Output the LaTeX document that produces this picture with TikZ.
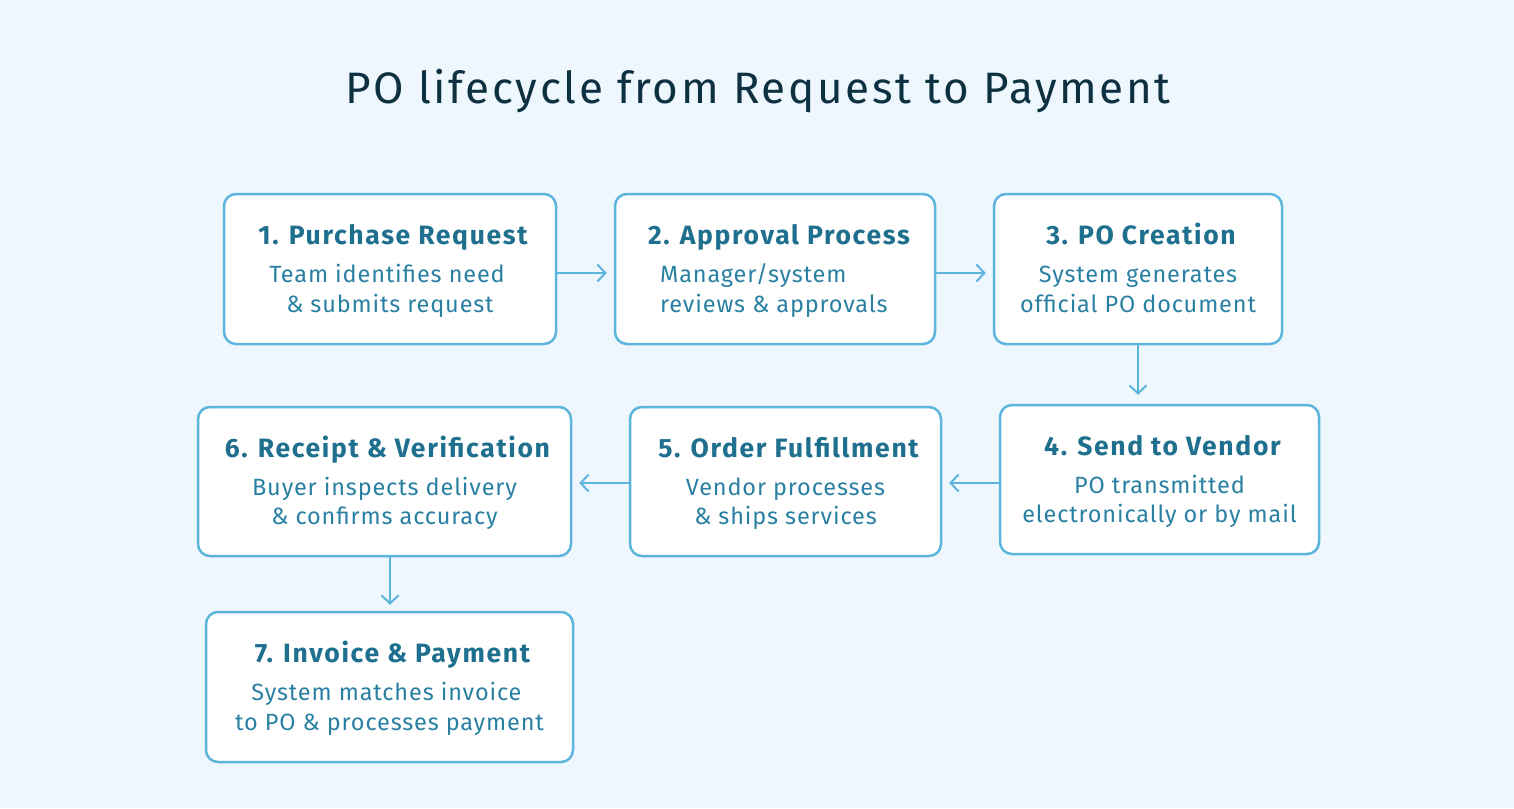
\documentclass[tikz,border=0pt]{standalone}
\usepackage{fontspec}
\setmainfont{Fira Sans}
\newfontfamily\ttlfont[LetterSpace=6]{Fira Sans}
\newfontfamily\hdfont[LetterSpace=6.3]{Fira Sans}
\newfontfamily\bdfont[LetterSpace=3.6]{Fira Sans}
\usetikzlibrary{calc,arrows.meta}
\definecolor{bgc}{HTML}{EEF7FD}
\definecolor{bdc}{HTML}{5DB5DD}
\definecolor{hdc}{HTML}{1F6F8E}
\definecolor{bdyc}{HTML}{2A80A3}
\definecolor{ttc}{HTML}{0E3142}
\tikzset{
  box/.style={draw=bdc, line width=2.5pt, fill=white, rounded corners=12pt, inner sep=0pt},
  hd/.style={font=\hdfont\fontsize{26.5}{30}\selectfont\bfseries, text=hdc, anchor=base, inner sep=0pt},
  bd/.style={font=\bdfont\fontsize{23.5}{30}\selectfont, text=bdyc, anchor=base, inner sep=0pt},
  arr/.style={draw=bdc, line width=2pt, -{Straight Barb[length=8pt,width=17pt]}},
  ttl/.style={font=\ttlfont\fontsize{44}{50}\selectfont, text=ttc, anchor=base, inner sep=0pt}
}
\begin{document}
\begin{tikzpicture}[x=1pt,y=-1pt]
\fill[bgc] (0,0) rectangle (1514,808);
\useasboundingbox (0,0) rectangle (1514,808);
\node[ttl] (t) at (758,103) {PO lifecycle from Request to Payment};
% boxes
\node[box, minimum width=332pt, minimum height=150pt] (b1) at (390,269) {};
\node[box, minimum width=320pt, minimum height=150pt] (b2) at (775,269) {};
\node[box, minimum width=288pt, minimum height=150pt] (b3) at (1138,269) {};
\node[box, minimum width=319pt, minimum height=149pt] (b4) at (1159.5,479.5) {};
\node[box, minimum width=311pt, minimum height=149pt] (b5) at (785.5,481.5) {};
\node[box, minimum width=373pt, minimum height=149pt] (b6) at (384.5,481.5) {};
\node[box, minimum width=367pt, minimum height=150pt] (b7) at (389.5,687) {};
% texts
\node[hd] (h1) at ($(b1.center)+(3,-25)$) {1.\hspace{.38em}Purchase Request};
\node[bd] (p1a) at ($(b1.center)+(-3,13.5)$) {Team identifies need};
\node[bd] (p1b) at ($(b1.center)+(0,43)$) {\& submits request};
\node[hd] (h2) at ($(b2.center)+(4,-25)$) {2.\hspace{.38em}Approval Process};
\node[bd, anchor=base west] (p2a) at (660,282.5) {Manager/system};
\node[bd, anchor=base west] (p2b) at (660,312) {reviews \& approvals};
\node[hd] (h3) at ($(b3.center)+(3,-25)$) {3.\hspace{.38em}PO Creation};
\node[bd] (p3a) at ($(b3.center)+(0,13.5)$) {System generates};
\node[bd] (p3b) at ($(b3.center)+(0,43)$) {official PO document};
\node[hd] (h4) at ($(b4.center)+(3,-24.5)$) {4.\hspace{.38em}Send to Vendor};
\node[bd] (p4a) at ($(b4.center)+(0,13.5)$) {PO transmitted};
\node[bd] (p4b) at ($(b4.center)+(0,43)$) {electronically or by mail};
\node[hd] (h5) at ($(b5.center)+(3,-24.5)$) {5.\hspace{.38em}Order Fulfillment};
\node[bd] (p5a) at ($(b5.center)+(0,13.5)$) {Vendor processes};
\node[bd] (p5b) at ($(b5.center)+(0,43)$) {\& ships services};
\node[hd] (h6) at ($(b6.center)+(3,-24.5)$) {6.\hspace{.38em}Receipt \& Verification};
\node[bd] (p6a) at ($(b6.center)+(0,13.5)$) {Buyer inspects delivery};
\node[bd] (p6b) at ($(b6.center)+(0,43)$) {\& confirms accuracy};
\node[hd] (h7) at ($(b7.center)+(3,-25)$) {7.\hspace{.38em}Invoice \& Payment};
\node[bd] (p7a) at ($(b7.center)+(-3,13.5)$) {System matches invoice};
\node[bd] (p7b) at ($(b7.center)+(0,43)$) {to PO \& processes payment};
% arrows
\draw[arr] ($(b1.east)+(0,4)$) -- ($(b2.west)+(-7,4)$);
\draw[arr] ($(b2.east)+(0,4)$) -- ($(b3.west)+(-7,4)$);
\draw[arr] (b3.south) -- ($(b4.north)+(-21.5,-9)$);
\draw[arr] ($(b4.west)+(0,3.5)$) -- ($(b5.east)+(7,1.5)$);
\draw[arr] ($(b5.west)+(0,1.5)$) -- ($(b6.east)+(7,1.5)$);
\draw[arr] ($(b6.south)+(5.5,0)$) -- ($(b7.north)+(0.5,-6)$);
\end{tikzpicture}
\end{document}
